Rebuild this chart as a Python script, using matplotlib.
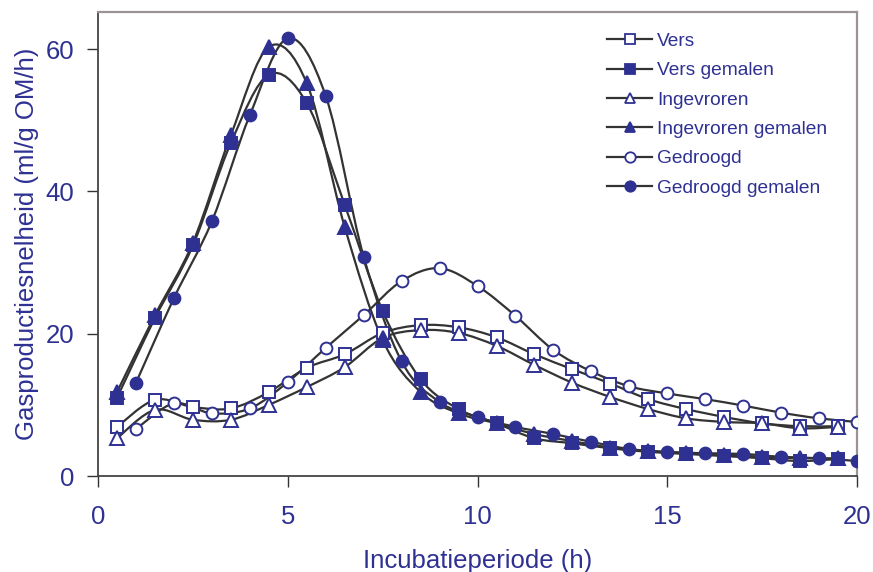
import numpy as np
import matplotlib
matplotlib.use("Agg")
import matplotlib.pyplot as plt
from matplotlib.path import Path
from matplotlib.patches import PathPatch
from matplotlib.lines import Line2D

plt.rcParams["font.family"] = ["Liberation Sans", "DejaVu Sans"]

BLUE = "#2e3192"
LINE = "#333333"

# incubation times (h)
t_half = [0.5, 1.5, 2.5, 3.5, 4.5, 5.5, 6.5, 7.5, 8.5, 9.5,
          10.5, 11.5, 12.5, 13.5, 14.5, 15.5, 16.5, 17.5, 18.5, 19.5]
t_whole = [1, 2, 3, 4, 5, 6, 7, 8, 9, 10,
           11, 12, 13, 14, 15, 16, 17, 18, 19, 20]

# gas production rate (ml/g OM/h)
vers = [6.9, 10.7, 9.7, 9.5, 11.8, 15.2, 17.1, 20.1, 21.2, 20.9,
        19.5, 17.1, 15.0, 13.0, 10.8, 9.4, 8.3, 7.4, 7.0, 7.0]
vers_gemalen = [11.0, 22.2, 32.4, 46.8, 56.4, 52.4, 38.1, 23.2, 13.6, 9.4,
                7.4, 5.3, 4.6, 3.9, 3.4, 3.1, 2.8, 2.5, 2.1, 2.4]
ingevroren = [5.3, 9.3, 7.9, 7.9, 10.0, 12.5, 15.3, 19.4, 20.5, 20.1,
              18.3, 15.6, 13.1, 11.1, 9.4, 8.1, 7.6, 7.4, 6.7, 6.9]
ingevroren_gemalen = [11.8, 22.6, 32.8, 47.9, 60.3, 55.2, 35.0, 19.1, 11.8, 8.8,
                      7.4, 5.9, 4.9, 4.0, 3.5, 3.2, 3.0, 2.7, 2.5, 2.5]
gedroogd = [6.6, 10.2, 8.8, 9.5, 13.2, 18.0, 22.6, 27.4, 29.2, 26.7,
            22.5, 17.7, 14.7, 12.6, 11.6, 10.8, 9.9, 8.9, 8.1, 7.6]
gedroogd_gemalen = [13.1, 25.0, 35.8, 50.7, 61.5, 53.4, 30.8, 16.1, 10.4, 8.3,
                    6.9, 5.9, 4.8, 3.8, 3.4, 3.2, 3.1, 2.7, 2.5, 2.1]

series = [
    ("Vers", t_half, vers, "s", "white"),
    ("Vers gemalen", t_half, vers_gemalen, "s", BLUE),
    ("Ingevroren", t_half, ingevroren, "^", "white"),
    ("Ingevroren gemalen", t_half, ingevroren_gemalen, "^", BLUE),
    ("Gedroogd", t_whole, gedroogd, "o", "white"),
    ("Gedroogd gemalen", t_whole, gedroogd_gemalen, "o", BLUE),
]


def smooth_path(x, y):
    # Excel-style smoothed line: cubic Bezier (Catmull-Rom) through the points
    p = np.column_stack([x, y]).astype(float)
    n = len(p)
    verts = [p[0]]
    codes = [Path.MOVETO]
    for i in range(n - 1):
        p0 = p[i - 1] if i > 0 else p[i]
        p3 = p[i + 2] if i + 2 < n else p[i + 1]
        c1 = p[i] + (p[i + 1] - p0) / 6
        c2 = p[i + 1] - (p3 - p[i]) / 6
        verts += [c1, c2, p[i + 1]]
        codes += [Path.CURVE4] * 3
    return Path(verts, codes)


fig = plt.figure(figsize=(8.73, 5.72), dpi=100)
ax = fig.add_axes([0.1123, 0.1678, 0.8694, 0.8112])

handles = []
for label, x, y, marker, face in series:
    ax.add_patch(PathPatch(smooth_path(x, y), fill=False, edgecolor=LINE,
                           lw=1.6, zorder=2))
for label, x, y, marker, face in series:
    ms = 9.5 if marker == "^" else 8.5
    ax.plot(x, y, linestyle="none", marker=marker, markersize=ms,
            markerfacecolor=face, markeredgecolor=BLUE, markeredgewidth=1.4,
            zorder=3)
    handles.append(Line2D([], [], color=LINE, lw=1.6, marker=marker,
                          markersize=7.5, markerfacecolor=face,
                          markeredgecolor=BLUE, markeredgewidth=1.3,
                          label=label))

ax.set_xlim(0, 20)
ax.set_ylim(0, 65.2)
ax.set_xticks([0, 5, 10, 15, 20])
ax.set_yticks([0, 20, 40, 60])

for side in ("left", "bottom"):
    ax.spines[side].set_color("#444444")
    ax.spines[side].set_linewidth(1.3)
for side in ("top", "right"):
    ax.spines[side].set_color("#9c9494")
    ax.spines[side].set_linewidth(1.6)

ax.tick_params(axis="both", direction="out", length=8, width=1,
               color="#333333", labelcolor=BLUE, labelsize=18.5)
ax.tick_params(axis="x", pad=13)
ax.tick_params(axis="y", pad=9)

ax.set_xlabel("Incubatieperiode (h)", fontsize=18.5, color=BLUE, labelpad=14)
ax.set_ylabel("Gasproductiesnelheid (ml/g OM/h)", fontsize=18.5, color=BLUE,
              labelpad=4.5)

leg = ax.legend(handles=handles, loc="upper left",
                bbox_to_anchor=(0.661, 0.972), frameon=False,
                fontsize=13.8, labelcolor=BLUE, handlelength=2.35,
                handletextpad=0.26, labelspacing=0.62, borderaxespad=0)

fig.savefig("out.png", dpi=100)
